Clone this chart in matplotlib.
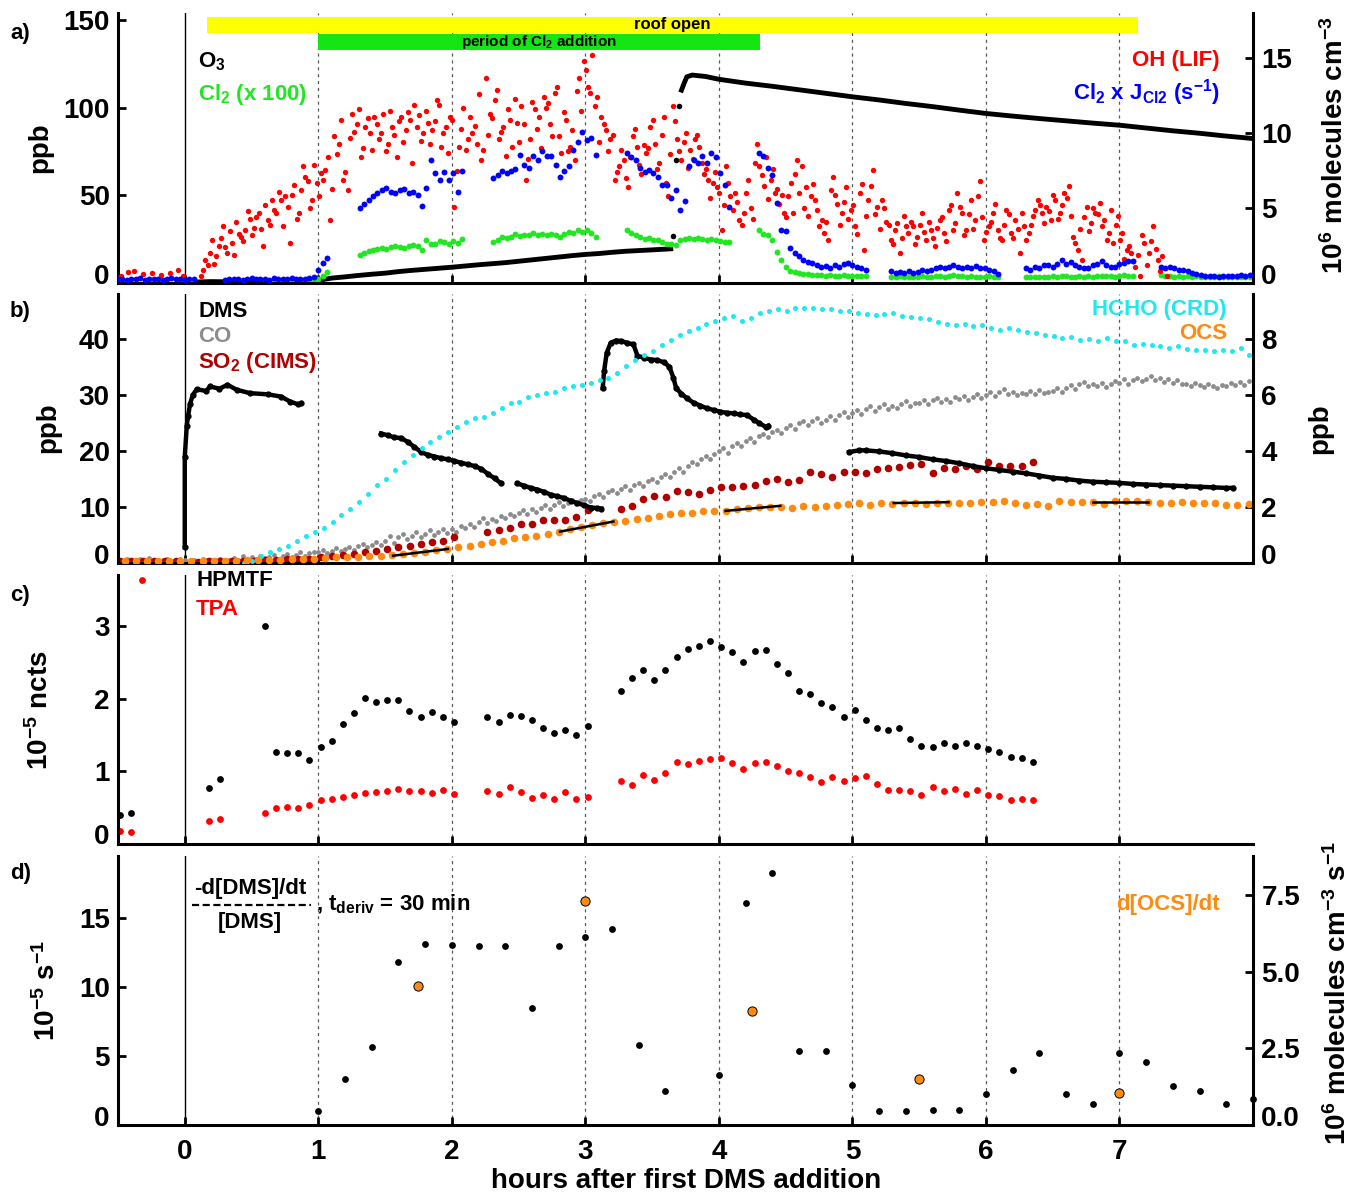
import numpy as np
import matplotlib
matplotlib.use('Agg')
import matplotlib.pyplot as plt
from matplotlib.ticker import FormatStrFormatter
from matplotlib.transforms import ScaledTranslation
from matplotlib.lines import Line2D

plt.rcParams['font.family'] = ['Liberation Sans', 'DejaVu Sans']
plt.rcParams['font.weight'] = 'bold'
plt.rcParams['mathtext.fontset'] = 'custom'
plt.rcParams['mathtext.rm'] = 'Liberation Sans:bold'
plt.rcParams['mathtext.it'] = 'Liberation Sans:bold'
plt.rcParams['mathtext.bf'] = 'Liberation Sans:bold'
plt.rcParams['mathtext.default'] = 'rm'

# ------------------------------------------------------------------ data
# panel a : periods (hours)
roof_open = (0.167, 7.14)
cl2_period = (1.0, 4.31)

# O3 (ppb)
o3_rise_t = [0.1, 0.2, 0.3, 0.4, 0.5, 0.6, 0.7, 0.8, 0.9,
             1.0, 1.1, 1.2, 1.3, 1.4, 1.5, 1.6, 1.7, 1.8, 1.9, 2.0, 2.1, 2.2, 2.3, 2.4,
             2.5, 2.6, 2.7, 2.8, 2.9, 3.0, 3.1, 3.2, 3.3, 3.4, 3.5, 3.6, 3.64]
o3_rise = [0.6, 0.8, 0.7, 0.9, 0.8, 1.0, 0.9, 1.0, 1.1,
           1.5, 2.8, 3.5, 4.3, 5.0, 5.6, 6.5, 7.2, 7.8, 8.4, 9.0, 9.7, 10.4, 11.0, 11.6,
           12.4, 13.2, 14.0, 14.8, 15.6, 16.3, 16.8, 17.5, 18.1, 18.5, 18.9, 19.3, 19.5]
o3_jump_t = [3.66, 3.68, 3.70]
o3_jump = [27.0, 70.0, 101.0]
o3_decay_t = [3.72, 3.74, 3.76, 3.8, 3.9, 4.0, 4.2, 4.4, 4.6, 4.8, 5.0, 5.2, 5.4, 5.6,
              5.8, 6.0, 6.2, 6.4, 6.6, 6.8, 7.0, 7.2, 7.4, 7.6, 7.8, 8.0]
o3_decay = [110.0, 114.0, 117.6, 118.6, 117.8, 116.2, 114.0, 112.2, 110.2, 108.2, 106.2,
            104.4, 102.4, 100.6, 98.6, 96.7, 95.2, 93.8, 92.5, 91.2, 90.0, 88.4, 86.8,
            85.4, 83.8, 82.4]

# Cl2 x 100 (ppb), sampled every 2 min, one list per measurement block
cl2_start = [0.6, 1.0, 1.31, 2.31, 3.31, 4.30, 5.29, 6.30, 7.31]
cl2_vals = [
    [0.5, 0.8, 0.4, 0.6, 0.9, 0.5, 0.7, 0.6, 0.8, 0.5, 0.7, 0.9],
    [2.0, 4.0, 6.0],
    [15.7, 17.0, 18.5, 19.0, 19.5, 20.0, 19.5, 20.5, 21.0, 20.5, 20.0, 20.9, 21.5, 21.0,
     19.0, 24.3, 22.0, 22.4, 24.0, 23.3, 22.5, 24.0, 23.0, 25.2],
    [23.3, 24.5, 26.2, 25.5, 26.5, 28.1, 27.0, 27.5, 27.1, 28.5, 27.5, 28.1, 27.5, 28.0,
     27.1, 26.5, 28.0, 29.0, 28.5, 30.0, 29.0, 30.0, 28.5, 26.2],
    [30.0, 28.5, 27.1, 26.5, 25.2, 25.8, 24.3, 24.8, 23.5, 22.4, 22.0, 21.5, 24.7, 25.0,
     25.8, 25.2, 25.5, 25.2, 24.6, 25.0, 24.3, 24.0, 23.6, 23.3],
    [30.0, 28.0, 27.1, 24.3, 17.6, 12.9, 9.0, 7.1, 6.5, 5.6, 5.2, 4.9, 4.6, 4.3, 4.5, 4.0,
     4.3, 4.0, 4.2, 4.3, 4.0, 4.1, 3.9, 4.2, 3.8],
    [3.6, 3.3, 3.8, 3.5, 3.2, 3.7, 3.4, 3.9, 3.5, 3.3, 3.8, 4.1, 3.6, 3.9, 4.3, 3.8, 4.0,
     3.6, 3.9, 3.4, 3.7, 3.5, 3.8, 3.3, 3.6],
    [3.2, 3.5, 3.3, 3.7, 3.4, 3.6, 3.9, 3.5, 3.8, 4.1, 3.7, 3.5, 3.9, 3.6, 4.0, 3.7, 3.9,
     4.2, 3.8, 4.1, 3.6, 3.9, 4.3, 4.0, 4.2],
    [4.3, 3.9, 4.1, 3.7, 4.0, 3.6, 3.8, 3.5, 3.9, 3.4, 3.7, 3.6, 3.3, 3.8, 3.5, 3.2, 3.6,
     3.4, 3.7, 3.3, 3.5],
]

# Cl2 x J_Cl2 (right axis, 1e6), sampled every 2 min
cl2j_start = [-0.5, 0.3, 1.0, 1.31, 2.31, 3.31, 4.30, 5.29, 6.30, 7.31]
cl2j_vals = [
    [0.25, 0.3, 0.2, 0.3, 0.25, 0.35, 0.2, 0.3, 0.25, 0.3, 0.2, 0.3, 0.35, 0.25, 0.3, 0.2,
     0.3, 0.25],
    [0.2, 0.3, 0.25, 0.3, 0.2, 0.3, 0.35, 0.25, 0.3, 0.3, 0.2, 0.35, 0.3, 0.25, 0.3, 0.35,
     0.3, 0.25, 0.3, 0.35, 0.4],
    [0.9, 1.33, 1.67],
    [5.0, 5.3, 5.56, 5.8, 6.0, 6.2, 6.33, 6.1, 6.0, 6.2, 6.3, 6.0, 6.1, 5.9, 5.16, 6.33,
     8.2, 7.33, 6.9, 7.4, 6.9, 7.33, 6.1, 7.44],
    [7.0, 7.2, 7.44, 7.33, 7.5, 7.6, 8.56, 7.9, 7.7, 8.44, 8.2, 8.78, 8.5, 8.44, 7.9, 7.1,
     7.5, 7.78, 8.9, 9.4, 10.1, 9.56, 9.7, 8.56],
    [8.67, 8.4, 8.2, 7.67, 7.4, 7.56, 7.33, 7.1, 6.56, 6.56, 5.67, 6.2, 4.9, 5.5, 7.78, 8.2,
     8.0, 8.44, 8.0, 8.67, 8.4, 7.33, 6.56, 5.1],
    [8.67, 8.44, 7.67, 7.2, 5.33, 3.56, 3.44, 2.33, 2.0, 1.8, 1.56, 1.4, 1.33, 1.2, 1.1,
     1.16, 1.0, 1.22, 1.1, 1.3, 1.33, 1.2, 1.1, 1.0, 0.89],
    [0.78, 0.7, 0.75, 0.67, 0.8, 0.7, 0.71, 0.85, 0.78, 0.9, 1.0, 1.1, 1.0, 1.1, 1.2, 1.1,
     1.0, 1.05, 1.0, 1.15, 1.0, 1.0, 0.9, 0.8, 0.62],
    [1.0, 0.9, 1.1, 1.0, 1.2, 1.22, 1.1, 1.3, 1.56, 1.3, 1.4, 1.22, 1.1, 1.0, 1.0, 1.2, 1.3,
     1.44, 1.2, 1.1, 1.1, 1.25, 1.33, 1.44, 1.5],
    [1.1, 1.0, 1.1, 1.0, 0.9, 0.85, 0.78, 0.7, 0.6, 0.56, 0.5, 0.45, 0.44, 0.4, 0.45, 0.44,
     0.5, 0.45, 0.56, 0.5, 0.56],
]

# OH (LIF), right axis (1e6 molecules cm-3); two interleaved 2-min series
oh_pre_t = [-0.477, -0.427, -0.377, -0.31, -0.243, -0.177, -0.11, -0.05, -0.01]
oh_pre = [0.44, 0.71, 0.78, 0.62, 0.67, 0.56, 0.67, 0.89, 0.44]
oh_start = 0.12
oh = [0.44, 1.56, 2.0, 1.3, 2.44, 3.8, 2.0, 2.67, 4.1, 3.1,
      3.56, 4.3, 3.67, 4.67, 2.44, 4.2, 5.56, 4.67, 5.56, 5.78,
      2.67, 6.56, 4.67, 7.78, 6.78, 5.56, 6.67, 7.33, 7.56, 4.2,
      9.8, 9.3, 6.9, 6.2, 11.3, 10.6, 8.4, 10.4, 10.0, 11.1,
      9.6, 11.3, 9.3, 10.4, 8.4, 11.1, 10.2, 10.9, 11.9, 11.2,
      10.0, 10.7, 10.2, 12.2, 9.1, 10.4, 11.1, 5.1, 9.1, 11.7,
      9.6, 10.0, 9.3, 8.2, 13.7, 11.3, 12.2, 9.6, 10.4, 11.6,
      9.1, 10.7, 11.8, 6.9, 9.6, 11.6, 11.1, 12.4, 12.0, 9.8,
      13.1, 8.7, 10.9, 9.1, 8.2, 13.7, 14.8, 13.1, 15.2, 12.4,
      11.1, 10.2, 9.6, 6.9, 7.8, 8.2, 6.4, 9.8, 9.1, 7.3,
      8.7, 10.4, 9.3, 8.0, 11.1, 5.8, 11.8, 9.6, 8.2, 10.0,
      8.9, 9.6, 9.1, 7.3, 6.9, 6.7, 6.4, 3.56, 7.8, 5.8,
      6.0, 4.2, 4.67, 6.9, 4.3, 9.3, 7.2, 8.4, 6.9, 6.0,
      5.3, 4.67, 5.8, 4.67, 8.2, 7.8, 6.4, 5.8, 5.56, 3.8,
      3.33, 2.9, 7.1, 5.3, 4.67, 6.4, 4.9, 3.8, 6.0, 2.2,
      5.56, 7.56, 5.1, 5.56, 4.1, 2.9, 3.56, 2.0, 4.44, 3.33,
      3.78, 3.1, 4.67, 2.9, 3.56, 2.44, 4.2, 3.33, 4.9, 3.56,
      6.0, 4.67, 3.56, 5.56, 4.2, 6.78, 2.9, 3.78, 4.67, 3.56,
      2.9, 4.9, 3.33, 4.2, 2.0, 3.78, 3.33, 4.44, 5.56, 4.67,
      5.1, 4.2, 5.56, 4.67, 6.0, 6.44, 3.1, 2.2, 1.56, 5.1,
      4.0, 4.67, 5.33, 4.2, 3.33, 2.67, 4.44, 3.33, 2.2, 2.0,
      1.1, 0.44, 2.67, 2.0, 3.78, 1.56, 1.78, 0.44]
oh_b_start = 0.137
oh_b = [0.9, 1.2, 2.9, 1.8, 3.0, 2.4, 3.5, 1.9, 3.3, 2.8,
        4.8, 3.2, 4.4, 3.6, 5.2, 3.9, 4.9, 6.1, 3.8, 5.1,
        5.9, 4.3, 6.2, 7.1, 5.0, 7.9, 5.8, 6.9, 8.4, 6.3,
        8.6, 10.9, 7.4, 9.7, 10.1, 11.6, 9.0, 11.0, 8.9, 10.6,
        10.0, 8.8, 11.5, 9.9, 10.8, 9.4, 11.4, 8.0, 10.4, 9.5,
        11.5, 9.3, 10.8, 11.9, 10.0, 8.7, 10.9, 7.5, 10.3, 8.9,
        11.1, 10.5, 12.6, 8.9, 9.9, 11.0, 12.9, 10.1, 8.5, 10.9,
        12.3, 9.4, 10.6, 8.3, 12.1, 10.3, 9.0, 11.7, 10.6, 12.7,
        9.8, 11.4, 8.8, 10.2, 12.8, 11.5, 14.2, 12.7, 11.8, 9.4,
        10.6, 8.8, 9.9, 7.4, 8.9, 7.0, 8.4, 10.3, 7.9, 9.2,
        9.0, 10.9, 7.6, 9.9, 6.7, 8.6, 10.8, 8.8, 9.4, 7.7,
        8.3, 9.9, 8.0, 7.6, 5.7, 7.4, 6.0, 5.2, 6.7, 4.9,
        5.4, 3.9, 6.0, 5.0, 8.0, 7.8, 6.5, 5.6, 7.6, 6.3,
        5.9, 4.4, 6.7, 7.3, 6.0, 5.0, 4.5, 6.6, 4.9, 4.2,
        4.1, 6.2, 5.9, 3.9, 5.4, 4.3, 5.2, 3.3, 6.6, 4.5,
        6.5, 4.6, 3.6, 5.0, 3.9, 2.6, 4.0, 3.0, 3.8, 4.1,
        2.6, 3.9, 3.4, 4.1, 3.0, 3.7, 4.4, 2.8, 5.2, 4.0,
        5.1, 3.2, 4.6, 3.6, 5.8, 4.4, 3.4, 4.1, 5.3, 3.0,
        3.9, 4.6, 3.0, 3.6, 4.7, 2.9, 3.9, 4.9, 5.2, 4.0,
        4.8, 5.9, 4.3, 5.2, 5.7, 4.5, 2.7, 3.6, 4.4, 3.5,
        5.0, 4.6, 3.8, 2.9, 4.9, 3.9, 2.9, 1.6, 2.5, 1.5,
        1.9, 3.2, 1.2, 2.8, 2.3, 0.8]

# panel b : DMS (ppb), blocks of the thick trace
dms_t = [
    [0.0, 0.0, 0.015, 0.025, 0.04, 0.06, 0.09, 0.16, 0.19, 0.26, 0.32, 0.39, 0.49, 0.62,
     0.72, 0.79, 0.85, 0.87],
    [1.47, 1.52, 1.57, 1.62, 1.67, 1.72, 1.77, 1.82, 1.87, 1.92, 1.97, 2.02, 2.07, 2.12,
     2.17, 2.22, 2.27, 2.32, 2.37],
    [2.49, 2.54, 2.59, 2.64, 2.69, 2.74, 2.79, 2.84, 2.89, 2.94, 2.99, 3.04, 3.09, 3.12],
    [3.13, 3.14, 3.16, 3.19, 3.23, 3.27, 3.31, 3.36, 3.39, 3.44, 3.49, 3.54, 3.59, 3.63,
     3.66, 3.68, 3.72, 3.76, 3.81, 3.86, 3.91, 3.96, 4.01, 4.06, 4.11, 4.16, 4.21, 4.26,
     4.30, 4.35, 4.37],
    [4.975, 5.05, 5.1, 5.2, 5.3, 5.4, 5.5, 5.6, 5.7, 5.8, 5.9, 6.0, 6.1, 6.2, 6.3, 6.4,
     6.5, 6.6, 6.7, 6.8, 6.9, 7.0, 7.1, 7.2, 7.3, 7.4, 7.5, 7.6, 7.7, 7.8, 7.85],
]
dms = [
    [2.8, 18.9, 24.5, 26.3, 28.4, 30.0, 31.0, 30.7, 31.5, 31.1, 31.8, 30.9, 30.3, 30.1,
     29.7, 28.8, 28.3, 28.5],
    [23.1, 22.8, 22.4, 22.3, 21.6, 20.7, 19.8, 19.3, 19.0, 18.7, 18.5, 18.2, 17.9, 17.6,
     17.3, 16.8, 15.9, 15.1, 14.2],
    [14.2, 13.8, 13.4, 13.1, 12.7, 12.2, 11.9, 11.6, 11.1, 10.7, 10.3, 9.9, 9.8, 9.7],
    [31.2, 34.2, 37.5, 39.3, 39.7, 39.6, 39.3, 39.0, 37.0, 36.6, 36.3, 36.2, 35.8, 35.0,
     33.0, 31.2, 30.2, 29.4, 28.6, 28.1, 27.6, 27.3, 27.0, 26.8, 26.7, 26.5, 26.4, 25.6,
     25.0, 24.3, 24.5],
    [19.8, 20.1, 20.1, 19.9, 19.6, 19.2, 18.9, 18.5, 18.2, 17.8, 17.3, 16.9, 16.6, 16.3,
     16.0, 15.6, 15.2, 15.0, 14.7, 14.5, 14.4, 14.3, 14.1, 14.0, 13.9, 13.8, 13.7, 13.6,
     13.5, 13.4, 13.4],
]

# CO (ppb), every 2 min from -0.5 h
co_start = -0.5
co = [0.6, 0.3, 0.8, 0.5, 0.2, 0.7, 0.4, 0.9, 0.5, 0.3, 0.6, 0.8, 0.4, 0.5, 0.7,
      0.5, 0.3, 0.6, 0.4, 0.8, 0.5, 0.2, 0.6, 0.7, 0.4, 0.5, 0.9, 0.6, 1.2, 0.8,
      1.1, 0.7, 1.3, 0.9, 1.0, 1.5, 0.8, 1.2, 1.6, 1.1, 1.4, 1.9, 1.3, 1.7, 2.0,
      1.9, 2.4, 1.8, 2.2, 2.6, 2.1, 2.5, 2.9, 2.3, 3.0, 3.4, 2.8, 3.3, 3.8, 3.2,
      3.9, 4.8, 3.6, 4.6, 5.2, 4.3, 4.9, 5.5, 4.6, 5.2, 5.8, 5.0, 5.6, 6.1, 5.4,
      6.0, 5.6, 6.6, 6.2, 7.0, 6.5, 7.4, 8.0, 7.2, 7.9, 7.5, 8.4, 8.0, 8.8, 8.3,
      8.9, 9.4, 8.7, 9.6, 9.1, 9.9, 10.4, 9.7, 10.3, 10.8, 10.1, 10.7, 11.2, 10.6, 11.3,
      11.5, 11.0, 12.0, 12.4, 11.8, 12.6, 13.0, 12.5, 13.2, 13.7, 13.1, 13.9, 14.3, 13.8, 14.6,
      14.9, 14.4, 15.3, 15.9, 15.4, 16.3, 16.9, 16.3, 17.3, 18.1, 17.6, 18.5, 19.1, 18.6, 19.4,
      19.9, 20.5, 19.6, 20.9, 21.4, 20.8, 21.7, 22.3, 21.6, 22.6, 23.1, 22.4, 23.3, 23.8, 23.2,
      24.1, 24.7, 23.9, 24.9, 25.4, 24.6, 25.3, 25.8, 25.0, 25.6, 26.2, 25.5, 26.4, 26.9, 26.1,
      26.7, 27.3, 26.5, 27.4, 28.0, 27.2, 27.9, 28.4, 27.5, 28.1, 27.6, 28.3, 28.9, 28.0, 28.6,
      28.5, 29.1, 28.3, 29.0, 29.5, 28.7, 29.3, 28.8, 29.6, 29.2, 29.8, 29.1, 29.7, 30.2, 29.5,
      30.0, 30.6, 29.8, 30.5, 31.0, 30.2, 30.6, 29.9, 30.4, 30.1, 30.7, 30.2, 30.9, 30.3, 30.6,
      30.7, 31.2, 30.5, 31.3, 31.8, 31.1, 31.9, 32.3, 31.5, 32.0, 31.6, 32.2, 31.4, 31.9, 32.5,
      32.2, 32.8, 32.0, 32.6, 33.1, 32.4, 32.9, 33.4, 32.7, 33.0, 32.3, 32.8, 32.1, 32.6, 31.9,
      32.0, 31.5, 32.2, 31.7, 31.4, 32.0, 31.6, 31.2, 31.8, 31.5, 32.1, 31.7, 32.3, 31.8, 32.4]

# SO2 (CIMS, ppb), every 5 min
so2_start = [-0.483, 0.1, 2.267, 3.267]
so2_vals = [
    [0.3, 0.4, 0.3, 0.4, 0.3, 0.4],
    [0.2, 0.3, 0.3, 0.4, 0.4, 0.4, 0.5, 0.6, 0.7, 0.7, 0.8, 1.0, 1.2, 1.4, 1.6, 1.9, 2.2,
     2.5, 2.8, 3.1, 3.4, 3.7, 4.0, 4.6],
    [5.5, 5.9, 6.3, 7.0, 7.0, 7.6, 7.7, 7.7, 8.2, 9.4],
    [9.7, 10.2, 11.5, 12.0, 11.7, 12.9, 12.7, 12.3, 13.1, 13.6, 13.6, 13.8, 14.0, 14.7,
     15.0, 14.4, 14.8, 16.2, 15.8, 15.4, 16.2, 16.3, 16.0, 16.7, 17.0, 17.2, 17.5, 17.6,
     16.1, 17.0, 16.7, 17.3, 16.7, 18.1, 17.3, 17.3, 17.3, 18.1],
]

# HCHO (CRD, right axis ppb), every 4 min from 0.44 h
hcho_start = 0.44
hcho = [0.0, 0.08, 0.26, 0.38, 0.5, 0.62, 0.8, 0.96, 1.1, 1.24, 1.46, 1.7, 1.94, 2.18,
        2.47, 2.77, 3.01, 3.31, 3.61, 3.85, 4.09, 4.33, 4.51, 4.69, 4.87, 5.04, 5.16,
        5.22, 5.34, 5.52, 5.70, 5.76, 5.94, 6.0, 6.06, 6.12, 6.24, 6.3, 6.36, 6.42, 6.54,
        6.6, 6.78, 7.02, 7.26, 7.44, 7.55, 7.79, 7.97, 8.15, 8.27, 8.39,
        8.54, 8.63, 8.75, 8.81, 8.63, 8.75, 8.93, 8.99, 9.05, 9.01, 9.09, 9.11, 9.09, 9.05,
        9.05, 9.01, 8.99, 8.93, 8.89, 8.85, 8.89, 8.93, 8.81, 8.77, 8.75, 8.69, 8.61, 8.54,
        8.49, 8.54, 8.45, 8.49, 8.37, 8.33, 8.37, 8.30, 8.25, 8.21, 8.15, 8.09, 8.03, 8.05,
        7.97, 8.01, 7.91, 8.03, 7.91, 7.94, 7.79, 7.82, 7.79, 7.73, 7.67, 7.73, 7.65, 7.61,
        7.61, 7.58, 7.61, 7.55, 7.67, 7.44]

# OCS (right axis ppb), every 5 min from -0.45 h
ocs_start = -0.45
ocs = [0.08, 0.07, 0.08, 0.06, 0.08, 0.07,
       0.06, 0.07, 0.06, 0.07, 0.08, 0.09, 0.10, 0.11, 0.12, 0.13, 0.14, 0.16,
       0.18, 0.20, 0.21, 0.22, 0.24, 0.25, 0.27, 0.33, 0.37, 0.41, 0.45, 0.49,
       0.56, 0.62, 0.68, 0.74, 0.80, 0.88, 0.92, 0.98, 1.05, 1.12, 1.22, 1.29,
       1.37, 1.41, 1.48, 1.50, 1.56, 1.59, 1.66, 1.74, 1.78, 1.80, 1.84, 1.86,
       1.86, 1.92, 1.98, 2.00, 2.00, 2.00, 1.96, 2.04, 2.00, 2.04, 2.08, 2.10,
       2.14, 2.08, 2.14, 2.11, 2.15, 2.15, 2.11, 2.15, 2.15, 2.15, 2.15, 2.17,
       2.17, 2.21, 2.14, 2.08, 2.11, 2.05, 2.21, 2.17, 2.17, 2.17, 2.11, 2.21,
       2.21, 2.21, 2.17, 2.15, 2.14, 2.17, 2.15, 2.14, 2.15, 2.08, 2.08, 2.11]

# linear fits used for d[OCS]/dt (start, end)
fit_t = [(1.56, 1.97), (2.81, 3.21), (4.05, 4.46), (5.31, 5.72), (6.80, 7.21)]
fit_v = [(0.26, 0.50), (1.12, 1.48), (1.86, 2.04), (2.14, 2.17), (2.16, 2.16)]

# panel c : HPMTF and TPA (1e-5 ncts), every 5 min
cims_t = [
    [-0.483, -0.4],
    [0.183, 0.267],
    [0.6, 0.683, 0.767, 0.85, 0.933, 1.017, 1.1, 1.183, 1.267, 1.35, 1.433, 1.517, 1.6,
     1.683, 1.767, 1.85, 1.933, 2.017],
    [2.267, 2.35, 2.433, 2.517, 2.6, 2.683, 2.767, 2.85, 2.933, 3.017],
    list(np.round(3.267 + np.arange(38) / 12, 3)),
]
hpmtf = [
    [0.40, 0.42],
    [0.77, 0.89],
    [3.0, 1.27, 1.245, 1.25, 1.16, 1.34, 1.42, 1.65, 1.80, 2.01, 1.95, 1.98, 1.98, 1.83,
     1.75, 1.81, 1.75, 1.68],
    [1.74, 1.68, 1.78, 1.76, 1.71, 1.59, 1.52, 1.57, 1.50, 1.62],
    [2.10, 2.29, 2.40, 2.26, 2.39, 2.57, 2.68, 2.72, 2.79, 2.71, 2.64, 2.50, 2.65, 2.67,
     2.47, 2.35, 2.11, 2.06, 1.94, 1.88, 1.74, 1.84, 1.70, 1.60, 1.57, 1.59, 1.45, 1.35,
     1.34, 1.39, 1.35, 1.39, 1.35, 1.30, 1.27, 1.20, 1.18, 1.13],
]
tpa = [
    [0.18, 0.17],
    [0.31, 0.34],
    [0.43, 0.50, 0.51, 0.50, 0.54, 0.60, 0.62, 0.65, 0.67, 0.70, 0.72, 0.73, 0.75, 0.73,
     0.73, 0.70, 0.74, 0.69],
    [0.73, 0.69, 0.79, 0.72, 0.63, 0.68, 0.62, 0.71, 0.62, 0.65],
    [0.86, 0.81, 0.95, 0.88, 0.97, 1.13, 1.10, 1.14, 1.17, 1.18, 1.12, 1.03, 1.11, 1.13,
     1.07, 1.01, 0.97, 0.92, 0.85, 0.92, 0.86, 0.91, 0.94, 0.82, 0.74, 0.74, 0.73, 0.67,
     0.78, 0.73, 0.76, 0.69, 0.74, 0.68, 0.66, 0.61, 0.62, 0.60],
]
tpa_extra_t = [-0.317]
tpa_extra = [3.63]

# panel d : DMS loss rate (1e-5 s-1) and d[OCS]/dt (1e6 molec cm-3 s-1)
kdms_t = [1.0, 1.2, 1.4, 1.6, 1.8, 2.0, 2.2, 2.4, 2.6, 2.8, 3.0, 3.2, 3.4, 3.6, 4.0,
          4.2, 4.4, 4.6, 4.8, 5.0, 5.2, 5.4, 5.6, 5.8, 6.0, 6.2, 6.4, 6.6, 6.8, 7.0,
          7.2, 7.4, 7.6, 7.8, 8.0]
kdms = [1.04, 3.3, 5.67, 11.8, 13.1, 13.05, 13.0, 13.0, 8.5, 12.98, 13.6, 14.2, 5.8,
        2.5, 3.6, 16.1, 18.26, 5.33, 5.4, 2.93, 1.02, 1.04, 1.07, 1.07, 2.25, 4.0, 5.25,
        2.25, 1.53, 5.2, 4.58, 2.83, 2.5, 1.5, 1.89]
docs_t = [1.75, 3.0, 4.25, 5.5, 7.0]
docs = [4.53, 7.29, 3.72, 1.51, 1.04]

# ------------------------------------------------------------------ style
RED = '#ff0000'
BLUE = '#0000ff'
GREEN = '#22e622'
BARGREEN = '#14e614'
YELLOW = '#ffff00'
CYAN = '#1ee8f0'
GRAY = '#8c8c8c'
DARKRED = '#b00000'
ORANGE = '#ff8a10'

W, H = 1355, 1195
fig = plt.figure(figsize=(W / 100, H / 100), dpi=100)


def box(top, bot):
    return [118 / W, 1 - bot / H, (1253 - 118) / W, (bot - top) / H]


def ft(x, y, s, **kw):
    kw.setdefault('fontsize', 16)
    return fig.text(x / W, 1 - y / H, s, **kw)


def blocks(starts, vals, step):
    t = np.concatenate([s + np.arange(len(v)) * step for s, v in zip(starts, vals)])
    return t, np.concatenate(vals)


def style(ax, ylim, yticks, xlabels=False):
    ax.set_xlim(-0.5, 8)
    ax.set_ylim(*ylim)
    ax.set_yticks(yticks)
    ax.set_xticks(range(8))
    for s in ['top', 'right']:
        ax.spines[s].set_visible(False)
    for s in ['left', 'bottom']:
        ax.spines[s].set_linewidth(2.2)
    ax.tick_params(direction='in', length=6, width=2, labelsize=20, pad=6)
    ax.tick_params(axis='x', pad=10, labelbottom=xlabels)
    ax.axvline(0, color='k', lw=1.0, zorder=1)
    for x in range(1, 8):
        ax.axvline(x, color='0.35', lw=0.9, ls=(0, (2.5, 3)), zorder=1)


def twin(ax, ylim, yticks):
    a2 = ax.twinx()
    a2.set_ylim(*ylim)
    a2.set_yticks(yticks)
    for s in ['top', 'left', 'bottom']:
        a2.spines[s].set_visible(False)
    a2.spines['right'].set_linewidth(2.2)
    a2.tick_params(direction='in', length=6, width=2, labelsize=20, pad=6)
    return a2


def lift_zero(ax, right=False):
    # the bottom "0" label sits a little above the axis line in the original
    tick = ax.yaxis.get_major_ticks()[0]
    lab = tick.label2 if right else tick.label1
    lab.set_transform(lab.get_transform() +
                      ScaledTranslation(0, 0.095, fig.dpi_scale_trans))


# ------------------------------------------------------------------ panel a
axa = fig.add_axes(box(13, 283))
style(axa, (0, 154), [0, 50, 100, 150])
axa2 = twin(axa, (0, 18), [0, 5, 10, 15])

axa.barh(147.35, roof_open[1] - roof_open[0], left=roof_open[0], height=9.1,
         color=YELLOW, zorder=3)
axa.barh(137.45, cl2_period[1] - cl2_period[0], left=cl2_period[0], height=9.1,
         color=BARGREEN, zorder=3)
axa.text(sum(roof_open) / 2, 147.35, 'roof open', ha='center', va='center',
         fontsize=12, zorder=4)
axa.text(sum(cl2_period) / 2, 137.45, 'period of Cl$_2$ addition', ha='center',
         va='center', fontsize=11, zorder=4)

axa.plot(o3_rise_t, o3_rise, color='k', lw=3.5, zorder=2)
axa.scatter(o3_jump_t, o3_jump, s=16, color='k', lw=0, zorder=2)
axa.plot(o3_decay_t, o3_decay, color='k', lw=3.5, zorder=2)
t, v = blocks(cl2_start, cl2_vals, 1 / 30)
axa.scatter(t, v, s=18, color=GREEN, lw=0, zorder=2)

t_oh = np.concatenate([oh_pre_t, oh_start + np.arange(len(oh)) / 30,
                       oh_b_start + np.arange(len(oh_b)) / 30])
axa2.scatter(t_oh, np.concatenate([oh_pre, oh, oh_b]), s=15, color=RED, lw=0, zorder=2)
t, v = blocks(cl2j_start, cl2j_vals, 1 / 30)
axa2.scatter(t, v, s=18, color=BLUE, lw=0, zorder=3)

ft(198, 67, 'O$_3$', color='k', va='baseline')
ft(198, 100, 'Cl$_2$ (x 100)', color=GREEN, va='baseline')
ft(1220, 66, 'OH (LIF)', color=RED, ha='right', va='baseline')
ft(1220, 100, 'Cl$_2$ x J$_{Cl2}$ (s$^{-1}$)', color=BLUE, ha='right', va='baseline')

# ------------------------------------------------------------------ panel b
axb = fig.add_axes(box(294, 563))
style(axb, (0, 48), [0, 10, 20, 30, 40])
axb2 = twin(axb, (0, 9.6), [0, 2, 4, 6, 8])

axb.scatter(co_start + np.arange(len(co)) / 30, co, s=12, color=GRAY, lw=0, zorder=2)
t, v = blocks(so2_start, so2_vals, 1 / 12)
axb.scatter(t, v, s=30, color=DARKRED, lw=0, zorder=2)
for tt, vv in zip(dms_t, dms):
    axb.plot(tt, vv, color='k', lw=3.2, marker='o', ms=3.5, zorder=3)

axb2.scatter(hcho_start + np.arange(len(hcho)) / 15, hcho, s=13, color=CYAN, lw=0,
             zorder=2)
axb2.scatter(ocs_start + np.arange(len(ocs)) / 12, ocs, s=30, color=ORANGE, lw=0,
             zorder=2)
for tt, vv in zip(fit_t, fit_v):
    axb2.plot(tt, vv, color='k', lw=1.8, zorder=3)

ft(198, 317, 'DMS', color='k', va='baseline')
ft(198, 342, 'CO', color=GRAY, va='baseline')
ft(198, 368, 'SO$_2$ (CIMS)', color=DARKRED, va='baseline')
ft(1227, 315, 'HCHO (CRD)', color=CYAN, ha='right', va='baseline')
ft(1227, 339, 'OCS', color=ORANGE, ha='right', va='baseline')

# ------------------------------------------------------------------ panel c
axc = fig.add_axes(box(575, 844))
style(axc, (0, 3.7), [0, 1, 2, 3])
for tt, vv in zip(cims_t, hpmtf):
    axc.scatter(tt, vv, s=24, color='k', lw=0, zorder=2)
for tt, vv in zip(cims_t, tpa):
    axc.scatter(tt, vv, s=24, color=RED, lw=0, zorder=2)
axc.scatter(tpa_extra_t, tpa_extra, s=24, color=RED, lw=0, zorder=2, clip_on=False)

ft(196, 586, 'HPMTF', color='k', va='baseline')
ft(196, 615, 'TPA', color=RED, va='baseline')

# ------------------------------------------------------------------ panel d
axd = fig.add_axes(box(856, 1125))
style(axd, (0, 19.5), [0, 5, 10, 15], xlabels=True)
axd2 = twin(axd, (0, 8.77), [0, 2.5, 5, 7.5])
axd2.yaxis.set_major_formatter(FormatStrFormatter('%.1f'))
axd.scatter(kdms_t, kdms, s=24, color='k', lw=0, zorder=2, clip_on=False)
axd2.scatter(docs_t, docs, s=44, color=ORANGE, edgecolor='k', lw=0.7, zorder=3)

ft(250, 894, '-d[DMS]/dt', ha='center', va='baseline')
fig.add_artist(Line2D([192 / W, 311 / W], [1 - 905 / H, 1 - 905 / H], color='k',
                      lw=1.6, ls=(0, (3.2, 1.6))))
ft(250, 928, '[DMS]', ha='center', va='baseline')
ft(316, 910, ', t$_{deriv}$ = 30 min', va='baseline')
ft(1220, 910, 'd[OCS]/dt', color=ORANGE, ha='right', va='baseline')

# ------------------------------------------------------------------ labels
for lab, y in [('a)', 34), ('b)', 311), ('c)', 595), ('d)', 873)]:
    ft(10, y, lab, va='center')
ft(40, 148, 'ppb', fontsize=20, rotation=90, ha='center', va='center')
ft(48, 428, 'ppb', fontsize=20, rotation=90, ha='center', va='center')
ft(40, 710, '10$^{-5}$ ncts', fontsize=20, rotation=90, ha='center', va='center')
ft(47, 990, '10$^{-5}$ s$^{-1}$', fontsize=20, rotation=90, ha='center', va='center')
ft(1335, 145, '10$^6$ molecules cm$^{-3}$', fontsize=20, rotation=90, ha='center',
   va='center')
ft(1320, 429, 'ppb', fontsize=20, rotation=90, ha='center', va='center')
ft(1338, 993, '10$^6$ molecules cm$^{-3}$ s$^{-1}$', fontsize=20, rotation=90,
   ha='center', va='center')
ft(686, 1181, 'hours after first DMS addition', fontsize=20, ha='center', va='center')

for ax in [axa, axb, axc, axd]:
    lift_zero(ax)
for ax in [axa2, axb2, axd2]:
    lift_zero(ax, right=True)

fig.savefig('out.png', dpi=100)
